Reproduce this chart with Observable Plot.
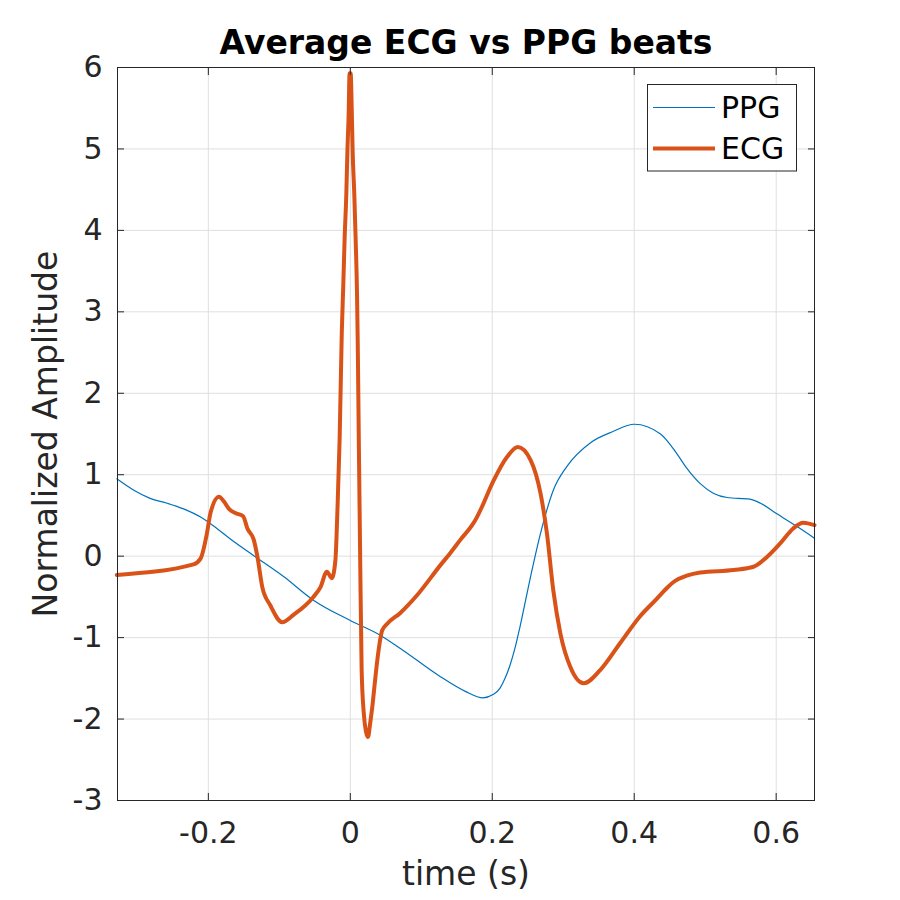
<!DOCTYPE html>
<html>
<head>
<meta charset="utf-8">
<script src="https://cdn.jsdelivr.net/npm/d3@7"></script>
<script src="https://cdn.jsdelivr.net/npm/@observablehq/plot@0.6"></script>
<style>
  html, body { margin: 0; padding: 0; background: #fff; }
</style>
</head>
<body>
<div id="chart"></div>
<script>
const seriesNames = ["PPG", "ECG"];
const seriesColors = ["#0072BD", "#D95319"];
const xTicks = [-0.2, 0, 0.2, 0.4, 0.6];
const yTicks = [-3, -2, -1, 0, 1, 2, 3, 4, 5, 6];
const xDomain = [-0.328, 0.654];
const yDomain = [-3, 6];

const ppgT = [-0.329, -0.305, -0.282, -0.258, -0.235, -0.211, -0.188, -0.169, -0.135, -0.094, -0.052, 0, 0.042, 0.07, 0.127, 0.162, 0.187, 0.201, 0.211, 0.218, 0.225, 0.232, 0.239, 0.254, 0.268, 0.286, 0.305, 0.338, 0.37, 0.4, 0.437, 0.46, 0.474, 0.493, 0.512, 0.531, 0.563, 0.578, 0.601, 0.63, 0.654];
const ppgV = [0.95, 0.81, 0.71, 0.65, 0.58, 0.48, 0.34, 0.21, 0.0, -0.25, -0.54, -0.79, -0.97, -1.13, -1.48, -1.66, -1.74, -1.70, -1.62, -1.50, -1.34, -1.13, -0.87, -0.25, 0.28, 0.81, 1.1, 1.39, 1.53, 1.62, 1.5, 1.26, 1.08, 0.89, 0.77, 0.72, 0.70, 0.65, 0.52, 0.36, 0.22];

const ecgT = [-0.329, -0.221, -0.211, -0.202, -0.197, -0.185, -0.178, -0.171, -0.162, -0.151, -0.145, -0.136, -0.131, -0.124, -0.113, -0.096, -0.080, -0.052, -0.042, -0.033, -0.026, -0.021, -0.018, -0.015, -0.012, -0.010, -0.008, -0.0056, -0.004, -0.0024, -0.001, 0.0005, 0.002, 0.0033, 0.0056, 0.0075, 0.0095, 0.0105, 0.012, 0.014, 0.016, 0.019, 0.022, 0.025, 0.028, 0.031, 0.034, 0.038, 0.045, 0.052, 0.070, 0.094, 0.127, 0.141, 0.155, 0.176, 0.183, 0.202, 0.221, 0.236, 0.254, 0.268, 0.277, 0.286, 0.296, 0.310, 0.329, 0.352, 0.380, 0.408, 0.430, 0.445, 0.455, 0.474, 0.493, 0.540, 0.568, 0.587, 0.606, 0.624, 0.638, 0.654];
const ecgV = [-0.23, -0.10, -0.03, 0.28, 0.53, 0.73, 0.67, 0.58, 0.53, 0.49, 0.34, 0.20, 0.0, -0.38, -0.60, -0.81, -0.72, -0.50, -0.38, -0.19, -0.27, -0.05, 0.6, 1.45, 2.75, 3.3, 3.9, 4.45, 5.0, 5.4, 5.93, 5.93, 5.5, 4.97, 4.45, 3.9, 3.2, 2.6, 1.4, -0.1, -1.4, -1.93, -2.15, -2.22, -2.05, -1.85, -1.6, -1.28, -0.91, -0.83, -0.70, -0.48, -0.11, 0.04, 0.20, 0.44, 0.56, 0.93, 1.22, 1.34, 1.18, 0.77, 0.28, -0.42, -0.95, -1.36, -1.56, -1.40, -1.07, -0.74, -0.54, -0.40, -0.32, -0.24, -0.20, -0.17, -0.13, -0.01, 0.16, 0.34, 0.41, 0.38];

const titleText = "Average ECG vs PPG beats";
const xLabel = "time (s)";
const yLabel = "Normalized Amplitude";

const ppgData = ppgT.map((t, i) => ({t, v: ppgV[i]}));
const ecgData = ecgT.map((t, i) => ({t, v: ecgV[i]}));

const fmt = d => String(d);
const font = "DejaVu Sans";
const axisColor = "#262626";
const gridColor = "#dfdfdf";

const svg = Plot.plot({
  width: 900,
  height: 900,
  marginLeft: 117,
  marginRight: 86,
  marginTop: 67,
  marginBottom: 100,
  style: {fontFamily: font, fontSize: "30px", color: axisColor, background: "#fff", overflow: "visible"},
  x: {domain: xDomain},
  y: {domain: yDomain},
  marks: [
    Plot.gridX(xTicks, {stroke: gridColor, strokeOpacity: 1}),
    Plot.gridY(yTicks, {stroke: gridColor, strokeOpacity: 1}),
    Plot.line(ppgData, {x: "t", y: "v", stroke: seriesColors[0], strokeWidth: 1.2, curve: "monotone-x"}),
    Plot.line(ecgData, {x: "t", y: "v", stroke: seriesColors[1], strokeWidth: 4, curve: "monotone-x"}),
    Plot.frame({stroke: axisColor, strokeWidth: 1}),
    Plot.axisX(xTicks, {anchor: "bottom", tickSize: 0, tickPadding: 21, tickFormat: fmt, fontSize: 30, label: null}),
    Plot.axisX(xTicks, {anchor: "bottom", tickSize: -7, tickFormat: () => "", label: null}),
    Plot.axisX(xTicks, {anchor: "top", tickSize: -7, tickFormat: () => "", label: null}),
    Plot.axisY(yTicks, {anchor: "left", tickSize: 0, tickPadding: 15, tickFormat: fmt, fontSize: 30, label: null}),
    Plot.axisY(yTicks, {anchor: "left", tickSize: -7, tickFormat: () => "", label: null}),
    Plot.axisY(yTicks, {anchor: "right", tickSize: -7, tickFormat: () => "", label: null}),
    Plot.text([titleText], {frameAnchor: "top", dy: -13.5, lineAnchor: "bottom", fontSize: 33, fontWeight: "bold", fill: "#000"}),
    Plot.text([xLabel], {frameAnchor: "bottom", dy: 84, lineAnchor: "bottom", fontSize: 33, fill: axisColor}),
    Plot.text([yLabel], {frameAnchor: "left", dx: -61, rotate: -90, textAnchor: "middle", lineAnchor: "bottom", fontSize: 33, fill: axisColor})
  ]
});

// Legend (box at top-right inside axes)
const lg = d3.select(svg).append("g").attr("font-family", font).attr("text-anchor", "start");
lg.append("rect").attr("x", 647.5).attr("y", 84.5).attr("width", 149).attr("height", 86.5)
  .attr("fill", "#fff").attr("stroke", axisColor).attr("stroke-width", 1);
const rows = [107.5, 148.5];
const widths = [1.2, 4];
seriesNames.forEach((name, i) => {
  lg.append("line").attr("x1", 653).attr("x2", 715).attr("y1", rows[i]).attr("y2", rows[i])
    .attr("stroke", seriesColors[i]).attr("stroke-width", widths[i]);
  lg.append("text").attr("x", 721).attr("y", rows[i] + 10.5).attr("font-size", 30)
    .attr("text-anchor", "start").attr("fill", "#000").text(name);
});

document.getElementById("chart").appendChild(svg);
</script>
</body>
</html>
